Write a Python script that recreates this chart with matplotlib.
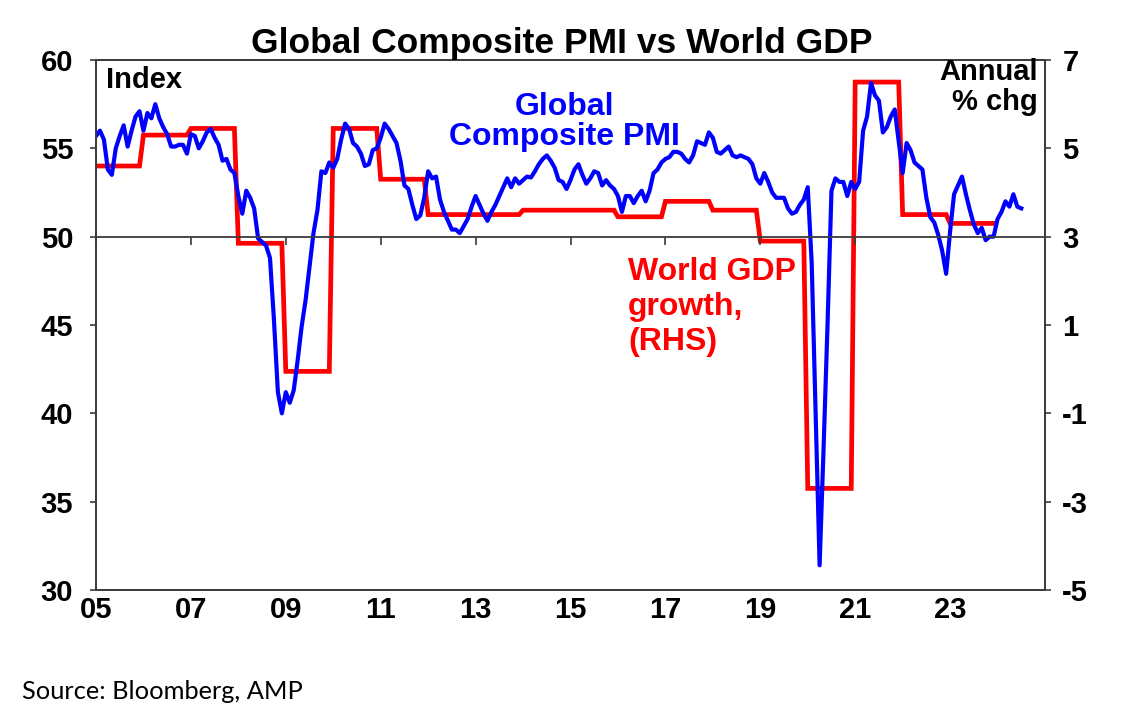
import numpy as np
import matplotlib
matplotlib.use("Agg")
import matplotlib.pyplot as plt

# ---------------- data ----------------
start_year = 2005
pmi_2005 = [55.7, 56.0, 55.5, 53.8, 53.5, 55.0, 55.7, 56.3, 55.1, 56.0, 56.8, 57.1]
pmi_2006 = [56.0, 57.0, 56.7, 57.5, 56.7, 56.2, 55.8, 55.1, 55.1, 55.2, 55.2, 54.7]
pmi_2007 = [55.8, 55.7, 55.0, 55.4, 55.9, 56.1, 55.6, 55.2, 54.3, 54.4, 53.8, 53.6]
pmi_2008 = [52.3, 51.3, 52.6, 52.2, 51.6, 49.9, 49.7, 49.5, 48.8, 45.3, 41.2, 40.0]
pmi_2009 = [41.2, 40.6, 41.3, 43.0, 44.9, 46.4, 48.3, 50.2, 51.5, 53.7, 53.6, 54.2]
pmi_2010 = [53.9, 54.4, 55.5, 56.4, 56.1, 55.3, 55.1, 54.7, 54.0, 54.1, 54.9, 55.0]
pmi_2011 = [55.6, 56.4, 56.1, 55.7, 55.3, 54.3, 52.9, 52.7, 51.8, 51.0, 51.2, 52.2]
pmi_2012 = [53.7, 53.3, 53.4, 52.1, 51.4, 50.9, 50.4, 50.4, 50.2, 50.6, 51.0, 51.7]
pmi_2013 = [52.3, 51.8, 51.3, 50.9, 51.4, 51.8, 52.3, 52.8, 53.3, 52.8, 53.3, 53.0]
pmi_2014 = [53.2, 53.4, 53.35, 53.7, 54.1, 54.4, 54.6, 54.3, 53.9, 53.2, 53.1, 52.7]
pmi_2015 = [53.2, 53.8, 54.1, 53.5, 53.0, 53.3, 53.7, 53.6, 52.9, 53.2, 52.9, 52.7]
pmi_2016 = [52.3, 51.4, 52.3, 52.3, 51.9, 52.3, 52.6, 52.0, 52.6, 53.6, 53.8, 54.2]
pmi_2017 = [54.4, 54.5, 54.8, 54.8, 54.7, 54.4, 54.2, 54.6, 55.4, 55.3, 55.2, 55.9]
pmi_2018 = [55.6, 54.8, 54.7, 54.9, 55.1, 54.6, 54.5, 54.6, 54.5, 54.4, 54.1, 53.3]
pmi_2019 = [53.0, 53.6, 53.1, 52.5, 52.2, 52.2, 52.2, 51.6, 51.3, 51.4, 51.8, 52.1]
pmi_2020 = [52.8, 48.5, 40.0, 31.4, 38.0, 45.0, 52.6, 53.3, 53.1, 53.1, 52.3, 53.1]
pmi_2021 = [52.7, 53.1, 56.0, 56.8, 58.7, 58.0, 57.7, 55.9, 56.2, 56.8, 57.2, 55.4]
pmi_2022 = [53.6, 55.3, 54.9, 54.2, 54.0, 53.8, 52.2, 51.1, 50.8, 50.1, 49.2, 47.9]
pmi_2023 = [50.3, 52.4, 52.9, 53.4, 52.4, 51.5, 50.7, 50.2, 50.5, 49.8, 50.0, 50.0]
pmi_2024 = [51.0, 51.4, 52.0, 51.7, 52.4, 51.7, 51.6]

gdp_years = list(range(2005, 2024))
gdp_growth = [4.6, 5.3, 5.45, 2.85, -0.05, 5.45, 4.3, 3.5, 3.5, 3.6, 3.6,
              3.45, 3.8, 3.6, 2.9, -2.7, 6.5, 3.5, 3.3]

x_tick_years = [2005, 2007, 2009, 2011, 2013, 2015, 2017, 2019, 2021, 2023]
x_tick_labels = ["05", "07", "09", "11", "13", "15", "17", "19", "21", "23"]
left_ticks = [30, 35, 40, 45, 50, 55, 60]
right_ticks = [-5, -3, -1, 1, 3, 5, 7]

pmi = (pmi_2005 + pmi_2006 + pmi_2007 + pmi_2008 + pmi_2009 + pmi_2010 +
       pmi_2011 + pmi_2012 + pmi_2013 + pmi_2014 + pmi_2015 + pmi_2016 +
       pmi_2017 + pmi_2018 + pmi_2019 + pmi_2020 + pmi_2021 + pmi_2022 +
       pmi_2023 + pmi_2024)
pmi_x = start_year + np.arange(len(pmi)) / 12.0
gdp_monthly = np.repeat(gdp_growth, 12)
gdp_x = gdp_years[0] + np.arange(len(gdp_monthly)) / 12.0

# ---------------- figure ----------------
FONT = "Liberation Sans"
plt.rcParams["font.family"] = [FONT, "DejaVu Sans"]
W, H = 1136, 726
fig = plt.figure(figsize=(W / 100, H / 100), dpi=100)
ax = fig.add_axes([96 / W, 1 - 590 / H, (1045 - 96) / W, (590 - 60) / H])
ax2 = ax.twinx()
ax.set_zorder(ax2.get_zorder() + 1)
ax.patch.set_visible(False)

spine_c = "#3c3c3c"
ax2.plot(gdp_x, gdp_monthly, color="#FF0000", lw=3.4, solid_joinstyle="miter")
ax.plot(pmi_x, pmi, color="#0000FF", lw=3.0, solid_joinstyle="round")

ax.set_xlim(2005, 2025)
ax.set_ylim(30, 60)
ax2.set_ylim(-5, 7)

ax.set_yticks(left_ticks)
ax2.set_yticks(right_ticks)
ax.set_yticklabels([str(v) for v in left_ticks])
ax2.set_yticklabels([str(v) for v in right_ticks])

ax.tick_params(axis="y", direction="out", length=4.5, width=1.2, color=spine_c,
               pad=12, labelsize=21)
ax2.tick_params(axis="y", direction="out", length=4.5, width=1.2, color=spine_c,
                pad=8, labelsize=21)
for lab in ax.get_yticklabels() + ax2.get_yticklabels():
    lab.set_fontweight("bold")

# x axis crossing at 50 with tick marks, labels at the bottom
ax.spines["bottom"].set_position(("data", 50))
ax.set_xticks(x_tick_years)
ax.tick_params(axis="x", direction="out", length=6, width=1.2, color=spine_c,
               labelbottom=False)
sec = ax.secondary_xaxis("bottom")
sec.set_xticks(x_tick_years)
sec.set_xticklabels(x_tick_labels, fontsize=21, fontweight="bold")
sec.tick_params(axis="x", length=0, pad=4)

for a in (ax, ax2, sec):
    for s in a.spines.values():
        s.set_color(spine_c)
        s.set_linewidth(1.3)

# ---------------- texts ----------------
def ft(x, y, s, **kw):
    fig.text(x / W, 1 - y / H, s, **kw)

ft(562, 53, "Global Composite PMI vs World GDP", ha="center", va="baseline",
   fontsize=25.5, fontweight="bold")
ft(106, 88, "Index", ha="left", va="baseline", fontsize=21, fontweight="bold")
ft(1038, 110, "Annual\n% chg", ha="right", va="baseline", fontsize=21,
   fontweight="bold", multialignment="right", linespacing=1.08)
ft(564, 145, "Global\nComposite PMI", ha="center", va="baseline", fontsize=23,
   fontweight="bold", color="#0000FF", multialignment="center", linespacing=1.0)
ft(628, 350, "World GDP\ngrowth,\n(RHS)", ha="left", va="baseline", fontsize=23,
   fontweight="bold", color="#FF0000", multialignment="left", linespacing=1.22)
ft(22, 699, "Source: Bloomberg, AMP", ha="left", va="baseline", fontsize=18.3,
   family=["Lato", "DejaVu Sans"])

fig.savefig("out.png", dpi=100)
